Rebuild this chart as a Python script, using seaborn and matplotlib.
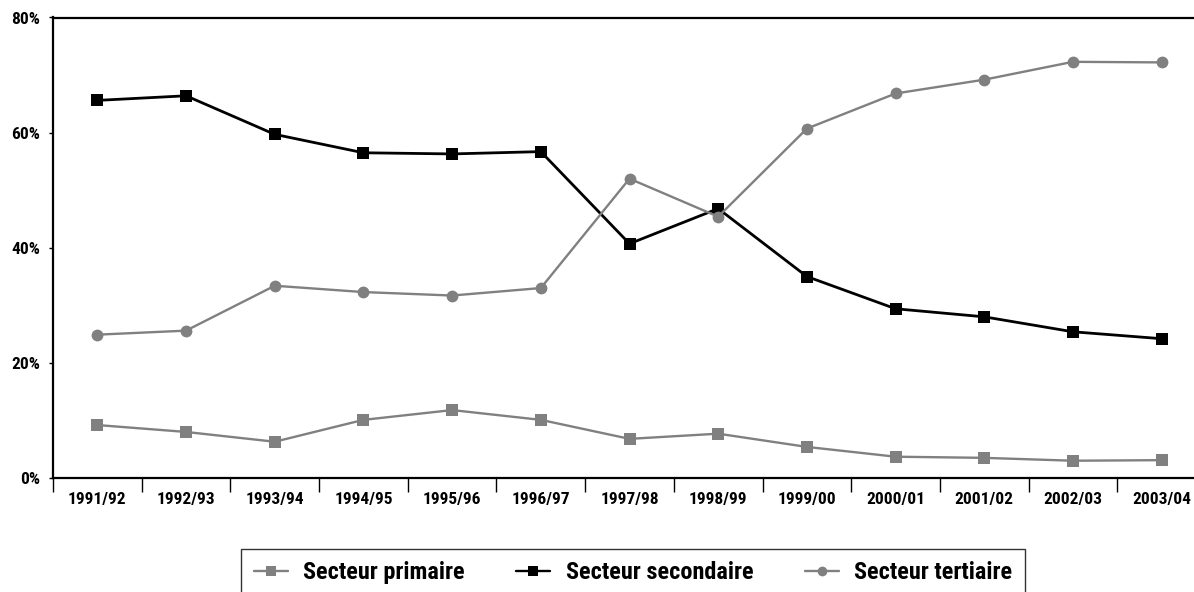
import matplotlib
matplotlib.use("Agg")
import matplotlib.pyplot as plt
import seaborn as sns
import pandas as pd
from matplotlib.ticker import FixedLocator, PercentFormatter
from matplotlib.lines import Line2D
from matplotlib import font_manager

years = ["1991/92", "1992/93", "1993/94", "1994/95", "1995/96", "1996/97", "1997/98",
         "1998/99", "1999/00", "2000/01", "2001/02", "2002/03", "2003/04"]
primaire = [9.2, 8.0, 6.3, 10.1, 11.8, 10.1, 6.8, 7.7, 5.4, 3.7, 3.5, 3.0, 3.1]
secondaire = [65.6, 66.4, 59.7, 56.5, 56.3, 56.7, 40.7, 46.8, 35.0, 29.4, 28.0, 25.4, 24.2]
tertiaire = [24.9, 25.6, 33.4, 32.3, 31.7, 33.0, 52.0, 45.4, 60.7, 66.8, 69.2, 72.3, 72.2]
labels = ["Secteur primaire", "Secteur secondaire", "Secteur tertiaire"]

sns.set_style("white")
names = {f.name for f in font_manager.fontManager.ttflist}
cands = ["Roboto Condensed", "Liberation Sans Narrow", "Open Sans Condensed", "Noto Sans Condensed"]
fam = [c for c in cands if c in names]
plt.rcParams['font.family'] = fam + ['DejaVu Sans'] if fam else ['DejaVu Sans']
plt.rcParams['font.stretch'] = 'condensed'
plt.rcParams['font.weight'] = 'bold'
plt.rcParams['text.color'] = 'black'
plt.rcParams['xtick.color'] = 'black'
plt.rcParams['ytick.color'] = 'black'

fig = plt.figure(figsize=(11.94, 5.92), dpi=100)
ax = fig.add_axes([53 / 1194, 114 / 592, 1153 / 1194, 460.5 / 592])

gray = "#808080"
series = [(primaire, gray, "s", 1.7, 8.5), (secondaire, "black", "s", 2.0, 9.0),
          (tertiaire, gray, "o", 1.7, 8.5)]
for (vals, col, mk, lw, ms), lab in zip(series, labels):
    df = pd.DataFrame({"year": years, "val": vals})
    sns.lineplot(data=df, x="year", y="val", ax=ax, color=col, marker=mk,
                 markersize=ms, markeredgewidth=0, linewidth=lw, label=lab, legend=False)

ax.set_xlim(-0.5, len(years) - 0.5)
ax.set_ylim(0, 80)
ax.yaxis.set_major_locator(FixedLocator([0, 20, 40, 60, 80]))
ax.yaxis.set_major_formatter(PercentFormatter(decimals=0))
ax.set_xlabel("")
ax.set_ylabel("")

ax.xaxis.set_minor_locator(FixedLocator([i - 0.5 for i in range(len(years) + 1)]))
ax.tick_params(axis="x", which="major", length=0, pad=10, labelsize=12.5, labelcolor="black")
ax.tick_params(axis="x", which="minor", length=10, width=1.0, color="black", direction="out", bottom=True)
ax.tick_params(axis="y", which="major", length=3, width=1.0, color="black", direction="out", left=True,
               labelsize=12.5, pad=6, labelcolor="black")
for lbl in ax.get_xticklabels() + ax.get_yticklabels():
    lbl.set_fontweight("bold")

for side in ["left", "bottom", "top"]:
    ax.spines[side].set_visible(True)
    ax.spines[side].set_color("black")
    ax.spines[side].set_linewidth(1.6)
ax.spines["right"].set_visible(False)
ax.grid(False)

handles = [Line2D([], [], color=gray, marker="s", markersize=7, markeredgewidth=0, linewidth=1.7),
           Line2D([], [], color="black", marker="s", markersize=7, markeredgewidth=0, linewidth=1.7),
           Line2D([], [], color=gray, marker="o", markersize=7, markeredgewidth=0, linewidth=1.7)]
leg = fig.legend(handles, labels, loc="upper center", bbox_to_anchor=(633 / 1194, 1 - 549 / 592),
                 ncol=3, frameon=True, fancybox=False, handlelength=1.4, columnspacing=2.1,
                 prop={"size": 17.5, "weight": "bold"}, borderpad=0.5, handletextpad=0.65,
                 borderaxespad=0)
leg.get_frame().set_edgecolor("black")
leg.get_frame().set_linewidth(1.0)
for t in leg.get_texts():
    t.set_color("black")

fig.savefig("out.png", dpi=100)
